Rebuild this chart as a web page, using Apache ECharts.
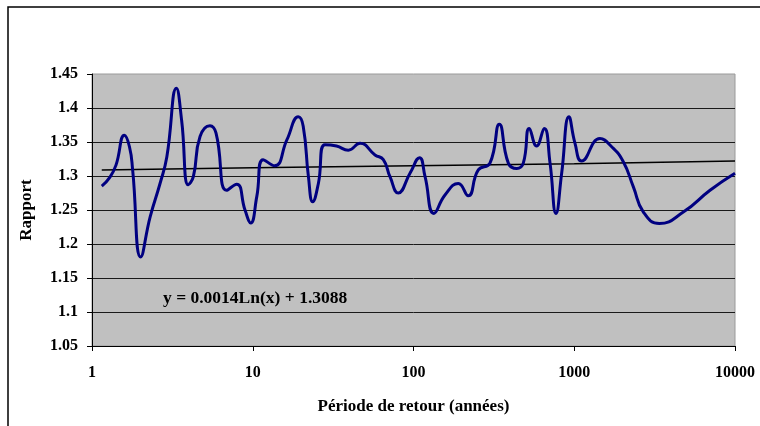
<!DOCTYPE html>
<html>
<head>
<meta charset="utf-8">
<script src="https://cdn.jsdelivr.net/npm/echarts@6/dist/echarts.min.js"></script>
<style>html,body{margin:0;padding:0;background:#fff}#c{width:760px;height:426px}</style>
</head>
<body>
<div id="c"></div>
<script>
// Data
const periods = [1.15,1.29,1.41,1.59,1.71,1.79,2.01,2.30,2.65,2.92,3.35,3.61,3.97,4.27,4.70,5.42,5.91,6.88,7.94,8.95,9.71,10.6,11.6,13.7,16.3,19.2,20.6,22.2,23.6,25.6,28.1,33.2,39.3,46.5,57.6,64.9,71.4,80.4,95.1,109,118,134,157,190,219,253,299,342,389,439,482,525,583,651,707,770,835,927,1011,1112,1445,1709,2019,2332,2692,3383,4770,6993,10000];
const ratios = [1.285,1.298,1.316,1.360,1.343,1.309,1.181,1.240,1.289,1.328,1.429,1.382,1.287,1.299,1.358,1.374,1.363,1.279,1.288,1.250,1.231,1.270,1.324,1.315,1.353,1.387,1.373,1.299,1.262,1.289,1.346,1.344,1.338,1.348,1.331,1.324,1.299,1.275,1.304,1.327,1.299,1.245,1.272,1.289,1.271,1.309,1.319,1.376,1.319,1.311,1.319,1.370,1.344,1.370,1.319,1.245,1.304,1.387,1.348,1.322,1.355,1.343,1.321,1.284,1.247,1.230,1.247,1.279,1.304];
const trendX = [1.15, 10, 100, 1000, 10000];
const trendY = [1.309, 1.312, 1.315, 1.318, 1.322];
const equationText = 'y = 0.0014Ln(x) + 1.3088';
const xName = 'Période de retour (années)';
const yName = 'Rapport';

const font = '"Liberation Serif","Times New Roman",serif';
const chart = echarts.init(document.getElementById('c'), null, {renderer: 'canvas'});
chart.setOption({
  animation: false,
  backgroundColor: '#fff',
  grid: {left: 92, right: 25, top: 74, bottom: 80, show: true, backgroundColor: '#C0C0C0', borderColor: '#9a9a9a', borderWidth: 1},
  xAxis: {
    type: 'log', logBase: 10, min: 1, max: 10000,
    name: xName, nameLocation: 'middle', nameGap: 52,
    nameTextStyle: {fontFamily: font, fontWeight: 'bold', fontSize: 17, color: '#000'},
    axisLine: {show: true, lineStyle: {color: '#000', width: 1}},
    axisTick: {show: true, length: 5, lineStyle: {color: '#000'}},
    minorTick: {show: false},
    splitLine: {show: false},
    axisLabel: {margin: 19, fontFamily: font, fontWeight: 'bold', fontSize: 16, color: '#000',
      formatter: v => String(Math.round(v))}
  },
  yAxis: {
    type: 'value', min: 1.05, max: 1.45, interval: 0.05,
    name: yName, nameLocation: 'middle', nameGap: 57, nameRotate: 90,
    nameTextStyle: {fontFamily: font, fontWeight: 'bold', fontSize: 17, color: '#000'},
    axisLine: {show: true, lineStyle: {color: '#000', width: 1}},
    axisTick: {show: true, inside: false, length: 5, lineStyle: {color: '#000'}},
    splitLine: {show: true, showMaxLine: false, showMinLine: false, lineStyle: {color: '#1a1a1a', width: 1}},
    axisLabel: {margin: 14, fontFamily: font, fontWeight: 'bold', fontSize: 16, color: '#000',
      formatter: v => String(+v.toFixed(2))}
  },
  series: [
    {
      type: 'line', data: periods.map((p, i) => [p, ratios[i]]),
      smooth: 0.5, showSymbol: false, symbol: 'none',
      lineStyle: {color: '#000080', width: 3}, z: 3
    },
    {
      type: 'line', data: trendX.map((p, i) => [p, trendY[i]]),
      smooth: false, showSymbol: false, symbol: 'none',
      lineStyle: {color: '#000', width: 1.5}, z: 2
    }
  ],
  graphic: [
    {type: 'rect', x: 0, y: 0, shape: {x: 8, y: 7, width: 820, height: 520}, style: {fill: 'none', stroke: '#000', lineWidth: 1.5}, silent: true, z: 100},
    {type: 'text', left: 163, top: 289, style: {text: equationText, font: 'bold 17.5px ' + font, fill: '#000'}, z: 100}
  ]
});
</script>
</body>
</html>
